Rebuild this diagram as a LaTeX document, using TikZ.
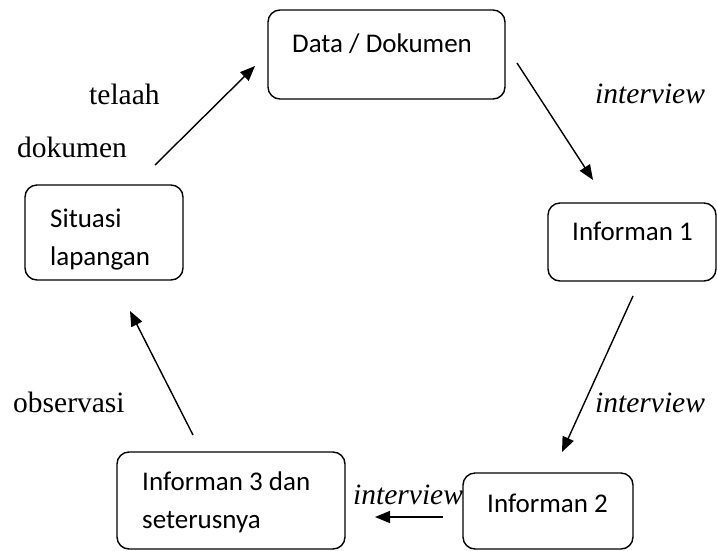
\documentclass[tikz,border=0pt]{standalone}
\usepackage{fontspec}
\setmainfont{Liberation Serif}
\newfontfamily\calibrifont{Carlito}
\usetikzlibrary{arrows.meta}
\begin{document}
\begin{tikzpicture}[x=1pt,y=-1pt,
  boxstyle/.style={draw, line width=1.4pt, rounded corners=12pt},
  boxtext/.style={anchor=base west, inner sep=0pt, font=\calibrifont\fontsize{27}{38}\selectfont},
  lbl/.style={anchor=base west, inner sep=0pt, font=\fontsize{29.5}{34}\selectfont},
  ilbl/.style={lbl, font=\fontsize{29.5}{34}\selectfont\itshape},
  arr/.style={line width=1.4pt, -{Triangle[length=15pt,width=12pt]}}]
\useasboundingbox (0,0) rectangle (717,550);
% boxes
\draw[boxstyle] (268,10) rectangle (505,99);
\draw[boxstyle] (548,203) rectangle (716,281);
\draw[boxstyle] (463,473) rectangle (633,549);
\draw[boxstyle] (117,452) rectangle (345,549);
\draw[boxstyle] (25,185) rectangle (183,280);
% box texts
\node[boxtext] (t1) at (292,52) {Data / Dokumen};
\node[boxtext] (t2) at (572,240) {Informan 1};
\node[boxtext] (t3) at (487,512) {Informan 2};
\node[boxtext] (t4a) at (142,490) {Informan 3 dan};
\node[boxtext] (t4b) at (142,528) {seterusnya};
\node[boxtext] (t5a) at (50,227) {Situasi};
\node[boxtext] (t5b) at (50,265) {lapangan};
% labels
\node[lbl] (l1) at (89,104) {telaah};
\node[lbl] (l2) at (17,157) {dokumen};
\node[ilbl] (l3) at (595,103) {interview};
\node[ilbl] (l4) at (595,412) {interview};
\node[lbl] (l5) at (13,412) {observasi};
\node[ilbl] (l6) at (353,504) {interview};
% arrow end points
\coordinate (a1s) at (155,165); \coordinate (a1e) at (255,66);
\coordinate (a2s) at (517,63);  \coordinate (a2e) at (593,180);
\coordinate (a3s) at (633,296); \coordinate (a3e) at (562,452);
\coordinate (a4s) at (443,517); \coordinate (a4e) at (375,517);
\coordinate (a5s) at (193,435); \coordinate (a5e) at (130,311);
\draw[arr] (a1s) -- (a1e);
\draw[arr] (a2s) -- (a2e);
\draw[arr] (a3s) -- (a3e);
\draw[arr] (a4s) -- (a4e);
\draw[arr] (a5s) -- (a5e);
\end{tikzpicture}
\end{document}
